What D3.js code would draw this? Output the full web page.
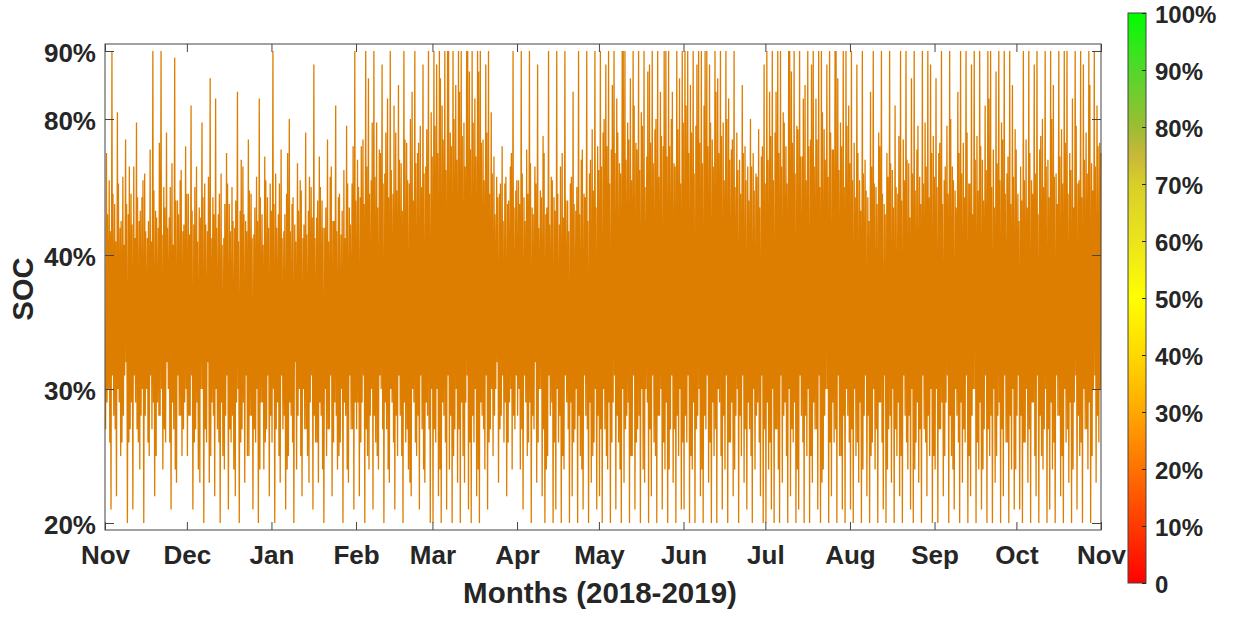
<!DOCTYPE html>
<html>
<head>
<meta charset="utf-8">
<script src="https://cdn.jsdelivr.net/npm/d3@7"></script>
<style>
  html, body { margin: 0; padding: 0; background: #fff; }
  svg text { font-family: "Liberation Sans", Arial, Helvetica, sans-serif; font-weight: bold; fill: #262626; }
</style>
</head>
<body>
<svg id="chart" width="1237" height="619"></svg>
<script>
// SOC readings (%), one value per day from 1 Nov 2018 to 31 Oct 2019, four readings per day.
// Early-morning trough
const morningTrough = [
  27, 30, 21, 28, 22, 29, 26, 31, 20, 27, 21, 29, 26, 28, 20, 30, 25, 27, 22, 29, 28, 24, 26, 30, 21, 27, 23, 28, 25, 29,
  25, 28, 21, 27, 24, 30, 20, 26, 23, 29, 22, 27, 20, 25, 28, 21, 26, 24, 29, 20, 27, 23, 25, 28, 21, 26, 20, 29, 24, 27, 22,
  26, 20, 29, 23, 27, 21, 25, 28, 20, 24, 30, 22, 27, 25, 29, 21, 26, 23, 28, 20, 25, 27, 22, 29, 24, 26, 20, 28, 23, 27, 21,
  27, 22, 29, 20, 25, 28, 21, 26, 24, 30, 20, 27, 23, 29, 21, 25, 28, 20, 26, 24, 22, 29, 25, 21, 27, 23, 28, 20,
  20, 26, 22, 20, 28, 21, 24, 20, 27, 23, 20, 25, 29, 21, 20, 26, 22, 20, 28, 24, 21, 27, 25, 30, 23, 28, 26, 22, 29, 24, 27,
  28, 24, 21, 29, 26, 20, 27, 23, 30, 22, 20, 25, 28, 20, 21, 26, 20, 24, 29, 20, 22, 27, 20, 25, 21, 28, 20, 23, 26, 21,
  22, 20, 27, 24, 20, 29, 21, 26, 20, 23, 28, 20, 25, 21, 27, 20, 24, 30, 20, 22, 26, 20, 28, 21, 24, 20, 27, 23, 20, 25, 21,
  21, 26, 20, 24, 20, 28, 22, 20, 27, 23, 20, 25, 20, 29, 21, 24, 20, 26, 22, 28, 20, 25, 23, 21, 27, 20, 24, 29, 22, 20,
  20, 24, 21, 20, 27, 20, 23, 29, 20, 22, 26, 20, 21, 28, 20, 25, 20, 23, 27, 21, 20, 24, 30, 20, 22, 26, 20, 25, 21, 20, 28,
  21, 20, 25, 23, 20, 28, 22, 20, 26, 24, 20, 29, 21, 20, 27, 23, 20, 25, 22, 20, 28, 24, 21, 20, 26, 23, 20, 27, 22, 25, 20,
  24, 20, 27, 22, 29, 20, 25, 21, 28, 20, 23, 26, 20, 22, 30, 20, 24, 21, 27, 20, 25, 20, 23, 28, 20, 22, 26, 20, 24, 21,
  28, 21, 20, 26, 23, 20, 29, 22, 20, 25, 27, 20, 21, 24, 20, 28, 22, 20, 26, 23, 20, 29, 21, 25, 20, 27, 24, 20, 30, 23, 26
];

// Midday peak
const middayPeak = [
  70, 62, 90, 55, 81, 48, 63, 74, 52, 58, 66, 79, 50, 57, 64, 45, 71, 90, 53, 48, 90, 60, 76, 51, 67, 89, 56, 62, 47, 72,
  58, 82, 49, 66, 54, 79, 61, 47, 86, 57, 83, 52, 64, 45, 70, 55, 60, 48, 84, 53, 66, 50, 74, 58, 46, 63, 83, 52, 69, 57, 61,
  90, 64, 52, 71, 47, 58, 80, 55, 49, 67, 62, 45, 76, 53, 60, 88, 51, 69, 56, 48, 74, 63, 50, 82, 57, 46, 65, 78, 54, 61, 90,
  68, 57, 74, 90, 86, 62, 90, 79, 71, 88, 64, 83, 90, 58, 76, 85, 67, 90, 73, 61, 84, 90, 70, 78, 88, 66, 90, 81,
  90, 88, 90, 82, 90, 90, 76, 90, 85, 90, 90, 79, 90, 87, 90, 83, 90, 90, 74, 88, 90, 81, 69, 63, 58, 72, 61, 55, 66, 90, 59,
  62, 90, 57, 71, 90, 54, 66, 88, 59, 75, 52, 90, 63, 57, 90, 49, 70, 90, 56, 61, 84, 53, 90, 68, 58, 90, 64, 77, 90, 72,
  90, 76, 88, 90, 71, 90, 83, 67, 90, 90, 79, 86, 90, 73, 90, 81, 90, 69, 88, 90, 77, 90, 84, 72, 90, 90, 80, 67, 90, 86, 90,
  90, 90, 85, 90, 78, 90, 90, 82, 90, 88, 74, 90, 86, 90, 79, 90, 83, 71, 90, 76, 68, 85, 72, 66, 80, 70, 64, 77, 69, 88,
  90, 84, 90, 76, 90, 90, 81, 72, 90, 87, 90, 78, 90, 69, 85, 90, 74, 90, 83, 90, 90, 77, 88, 90, 71, 90, 86, 79, 90, 90, 82,
  90, 73, 88, 62, 90, 68, 57, 84, 90, 60, 76, 90, 55, 70, 90, 65, 82, 58, 90, 74, 90, 67, 86, 90, 71, 63, 90, 79, 90, 88, 75,
  86, 70, 90, 62, 78, 90, 66, 59, 84, 90, 73, 90, 61, 88, 90, 75, 90, 68, 82, 90, 90, 71, 87, 90, 79, 90, 64, 90, 85, 77,
  58, 66, 90, 74, 90, 62, 88, 90, 71, 80, 90, 68, 90, 85, 64, 90, 77, 90, 90, 70, 83, 90, 61, 90, 88, 76, 90, 67, 90, 82, 73
];

// Evening trough
const eveningTrough = [
  29, 26, 31, 27, 30, 25, 28, 32, 26, 29, 31, 27, 24, 30, 28, 26, 31, 29, 25, 28, 30, 27, 32, 26, 29, 24, 31, 28, 27, 30,
  28, 31, 26, 29, 23, 30, 27, 32, 25, 28, 30, 26, 29, 24, 31, 27, 28, 22, 30, 26, 29, 31, 25, 28, 27, 30, 24, 29, 26, 31, 28,
  30, 27, 25, 31, 28, 24, 29, 26, 32, 28, 25, 30, 27, 23, 31, 28, 26, 29, 24, 30, 27, 31, 26, 28, 25, 30, 29, 24, 31, 27, 29,
  29, 26, 31, 27, 24, 30, 28, 25, 31, 27, 29, 24, 30, 26, 28, 31, 25, 29, 27, 23, 30, 26, 28, 31, 24, 29, 27, 30,
  27, 30, 24, 29, 26, 31, 28, 25, 30, 27, 29, 23, 31, 26, 28, 30, 24, 29, 27, 31, 26, 30, 28, 32, 27, 31, 29, 26, 30, 28, 31,
  30, 27, 31, 25, 29, 28, 32, 26, 30, 27, 24, 31, 29, 26, 30, 28, 25, 31, 27, 29, 26, 30, 28, 24, 31, 27, 29, 25, 30, 28,
  27, 30, 25, 29, 26, 31, 28, 24, 30, 27, 29, 25, 31, 26, 28, 30, 23, 29, 27, 31, 25, 28, 30, 26, 29, 24, 31, 27, 28, 30, 26,
  28, 31, 25, 29, 27, 30, 24, 28, 31, 26, 29, 27, 30, 25, 28, 31, 26, 29, 24, 30, 28, 31, 27, 29, 25, 30, 28, 26, 31, 27,
  29, 26, 30, 27, 24, 31, 28, 25, 30, 27, 29, 24, 31, 26, 28, 30, 25, 29, 27, 31, 23, 28, 30, 26, 29, 27, 31, 25, 28, 30, 26,
  27, 30, 26, 29, 24, 31, 28, 25, 30, 27, 29, 26, 31, 24, 28, 30, 27, 29, 25, 31, 26, 28, 30, 24, 29, 27, 31, 26, 28, 30, 25,
  30, 27, 29, 25, 31, 28, 24, 30, 26, 29, 27, 31, 25, 28, 30, 26, 29, 24, 31, 27, 28, 30, 25, 29, 27, 31, 26, 28, 30, 24,
  31, 28, 26, 30, 27, 29, 25, 31, 28, 24, 30, 27, 29, 26, 31, 28, 25, 30, 27, 29, 24, 31, 28, 26, 30, 27, 29, 25, 31, 28, 30
];

// Late-evening peak
const nightPeak = [
  52, 47, 58, 44, 61, 50, 43, 55, 66, 49, 45, 57, 53, 62, 47, 50, 44, 59, 51, 73, 46, 54, 48, 60, 43, 56, 52, 65, 49, 58,
  46, 53, 60, 44, 51, 57, 49, 63, 45, 52, 48, 58, 43, 55, 61, 47, 50, 56, 44, 68, 52, 47, 59, 45, 54, 50, 57, 43, 62, 48, 53,
  55, 48, 61, 45, 52, 70, 47, 57, 44, 53, 59, 49, 46, 63, 51, 45, 56, 60, 48, 54, 44, 66, 50, 47, 58, 53, 45, 61, 49, 72, 56,
  60, 72, 55, 66, 58, 79, 63, 54, 70, 61, 76, 57, 65, 82, 59, 68, 53, 74, 62, 80, 56, 67, 73, 60, 64, 77, 58, 69,
  78, 70, 86, 74, 65, 90, 72, 80, 68, 84, 75, 66, 90, 71, 79, 69, 87, 73, 62, 76, 58, 64, 52, 57, 61, 50, 63, 56, 70, 54, 62,
  55, 64, 50, 58, 67, 52, 61, 48, 57, 70, 54, 49, 62, 53, 58, 66, 51, 56, 47, 63, 55, 60, 52, 71, 57, 50, 68, 59, 54, 65,
  66, 80, 72, 61, 85, 70, 76, 64, 90, 68, 74, 62, 82, 71, 65, 78, 60, 87, 73, 67, 80, 63, 75, 90, 69, 72, 84, 66, 77, 61, 79,
  82, 70, 76, 64, 88, 73, 67, 90, 72, 79, 66, 84, 70, 75, 62, 80, 68, 74, 60, 65, 58, 70, 62, 56, 66, 59, 63, 54, 72, 61,
  68, 75, 62, 84, 70, 66, 79, 61, 90, 73, 64, 77, 69, 83, 62, 72, 88, 66, 74, 60, 81, 68, 63, 76, 71, 90, 65, 72, 60, 78, 67,
  62, 57, 70, 53, 64, 59, 50, 66, 61, 55, 72, 58, 52, 63, 67, 54, 60, 75, 56, 62, 68, 51, 64, 59, 78, 55, 61, 66, 57, 70, 63,
  60, 73, 55, 66, 58, 80, 62, 54, 70, 64, 57, 76, 61, 52, 68, 59, 72, 56, 65, 83, 60, 54, 67, 62, 74, 58, 69, 55, 63, 71,
  50, 56, 62, 54, 70, 58, 64, 52, 75, 60, 66, 57, 80, 63, 55, 69, 61, 73, 58, 65, 54, 78, 62, 57, 68, 64, 85, 59, 66, 72, 70
];

const readingHours = [5, 13, 18, 22];              // hour of day of each reading above
const socTicks = [20, 30, 40, 80, 90];            // y-axis tick values (%)
const colorbarTicks = d3.range(0, 101, 10);       // colour bar ticks (%)
const colorbarStops = [                            // SOC colour map: [%, colour]
  [0, "#ff0000"], [10, "#ff3a00"], [20, "#ff7200"], [30, "#ffa800"], [40, "#ffd800"],
  [50, "#ffff00"], [60, "#ebe41c"], [70, "#d8cf28"], [75, "#c8b838"], [80, "#9cbd34"],
  [90, "#52d82a"], [100, "#00ff00"]
];
const startDate = new Date(Date.UTC(2018, 10, 1));
const endDate = new Date(Date.UTC(2019, 10, 1));

const svg = d3.select("#chart");
const ink = "#262626";
const frame = "#454545";
const plot = { left: 105, right: 1101, top: 44, bottom: 530 };

// Scales
const x = d3.scaleUtc().domain([startDate, endDate]).range([plot.left, plot.right]);
const y = d3.scaleLinear().domain(socTicks).range([523, 389, 255, 119, 51]);

// Time series of all readings in chronological order
const readings = [morningTrough, middayPeak, eveningTrough, nightPeak];
const series = [];
morningTrough.forEach((_, i) => {
  const day = d3.utcDay.offset(startDate, i);
  readings.forEach((arr, k) => {
    series.push({ t: d3.utcHour.offset(day, readingHours[k]), v: arr[i] });
  });
});

svg.append("path")
  .datum(series)
  .attr("fill", "none")
  .attr("stroke", "#de7e00")
  .attr("stroke-width", 1.3)
  .attr("stroke-linejoin", "miter")
  .attr("d", d3.line().x(d => x(d.t)).y(d => y(d.v)));

// Axes (box with inward ticks)
const months = d3.utcMonth.range(startDate, d3.utcDay.offset(endDate, 1));

const xAxis = svg.append("g")
  .attr("transform", `translate(0,${plot.bottom})`)
  .call(d3.axisBottom(x).tickValues(months).tickFormat(d3.utcFormat("%b"))
    .tickSizeInner(-8).tickSizeOuter(0).tickPadding(16));
xAxis.selectAll("text").style("font-size", "26px");

svg.append("g")
  .attr("transform", `translate(0,${plot.top})`)
  .call(d3.axisTop(x).tickValues(months).tickFormat("").tickSizeInner(-8).tickSizeOuter(0));

const yAxis = svg.append("g")
  .attr("transform", `translate(${plot.left},0)`)
  .call(d3.axisLeft(y).tickValues(socTicks).tickFormat(d => d + "%")
    .tickSizeInner(-9).tickSizeOuter(0).tickPadding(9));
yAxis.selectAll("text").style("font-size", "26px").attr("dy", "0.42em");

svg.append("g")
  .attr("transform", `translate(${plot.right},0)`)
  .call(d3.axisRight(y).tickValues(socTicks).tickFormat("").tickSizeInner(-9).tickSizeOuter(0));

svg.selectAll(".domain").remove();
svg.selectAll(".tick line").attr("stroke", frame);

svg.append("rect")
  .attr("x", plot.left).attr("y", plot.top)
  .attr("width", plot.right - plot.left).attr("height", plot.bottom - plot.top)
  .attr("fill", "none").attr("stroke", frame).attr("stroke-width", 1);

// Axis titles
svg.append("text")
  .attr("x", 600).attr("y", 603)
  .attr("text-anchor", "middle")
  .style("font-size", "29.5px")
  .text("Months (2018-2019)");

svg.append("text")
  .attr("transform", "translate(33,289) rotate(-90)")
  .attr("text-anchor", "middle")
  .style("font-size", "29px")
  .text("SOC");

// Colour bar
const cb = { x: 1128, width: 18, top: 13, bottom: 583 };
const cbScale = d3.scaleLinear().domain([0, 100]).range([cb.bottom, cb.top]);

const grad = svg.append("defs").append("linearGradient")
  .attr("id", "socGradient")
  .attr("x1", 0).attr("y1", 1).attr("x2", 0).attr("y2", 0);
grad.selectAll("stop").data(colorbarStops).join("stop")
  .attr("offset", d => d[0] + "%")
  .attr("stop-color", d => d[1]);

svg.append("rect")
  .attr("x", cb.x).attr("y", cb.top)
  .attr("width", cb.width).attr("height", cb.bottom - cb.top)
  .attr("fill", "url(#socGradient)")
  .attr("stroke", frame).attr("stroke-width", 1);

const cbAxis = svg.append("g")
  .attr("transform", `translate(${cb.x + cb.width},0)`)
  .call(d3.axisRight(cbScale).tickValues(colorbarTicks)
    .tickFormat(d => d === 0 ? "0" : d + "%")
    .tickSizeInner(-4).tickSizeOuter(0).tickPadding(9));
cbAxis.select(".domain").remove();
cbAxis.selectAll(".tick line").attr("stroke", ink);
cbAxis.selectAll("text").style("font-size", "24px").attr("dy", "0.4em");
</script>
</body>
</html>
